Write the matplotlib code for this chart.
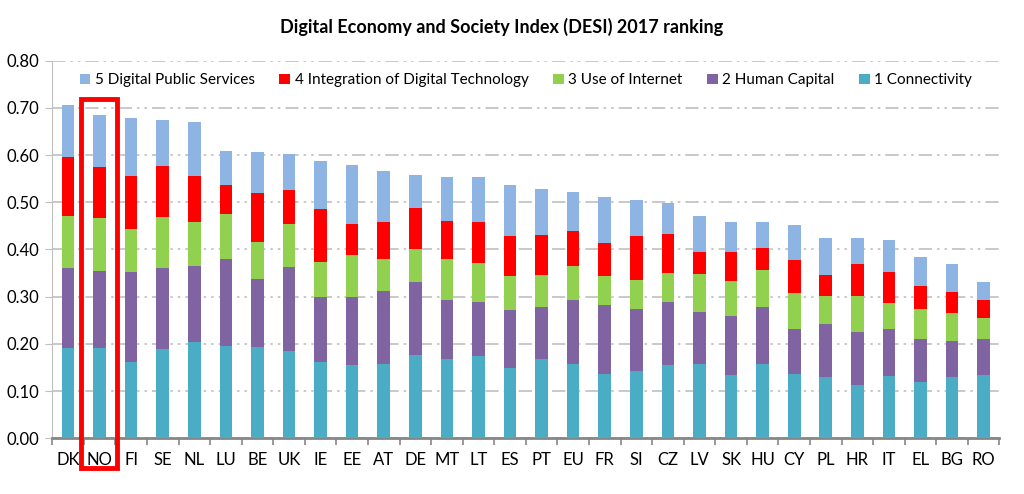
import numpy as np
import matplotlib
matplotlib.use('Agg')
import matplotlib.pyplot as plt
from matplotlib.patches import Rectangle

plt.rcParams['font.family'] = ['Lato', 'DejaVu Sans']

# DESI 2017, one value per dimension and country
countries = ['DK', 'NO', 'FI', 'SE', 'NL', 'LU', 'BE', 'UK', 'IE', 'EE', 'AT', 'DE', 'MT', 'LT', 'ES',
             'PT', 'EU', 'FR', 'SI', 'CZ', 'LV', 'SK', 'HU', 'CY', 'PL', 'HR', 'IT', 'EL', 'BG', 'RO']
connectivity = [0.191, 0.191, 0.161, 0.189, 0.203, 0.196, 0.194, 0.184, 0.161, 0.155, 0.157, 0.177, 0.168, 0.175, 0.148,
                0.167, 0.157, 0.137, 0.143, 0.155, 0.158, 0.134, 0.158, 0.136, 0.129, 0.112, 0.132, 0.119, 0.129, 0.134]
human_capital = [0.170, 0.164, 0.191, 0.171, 0.162, 0.184, 0.143, 0.179, 0.139, 0.145, 0.155, 0.154, 0.125, 0.113, 0.124,
                 0.111, 0.136, 0.146, 0.130, 0.133, 0.109, 0.125, 0.120, 0.095, 0.113, 0.113, 0.099, 0.091, 0.077, 0.076]
use_internet = [0.110, 0.112, 0.092, 0.109, 0.094, 0.096, 0.078, 0.090, 0.074, 0.089, 0.067, 0.071, 0.087, 0.083, 0.072,
                0.067, 0.071, 0.061, 0.062, 0.062, 0.082, 0.075, 0.079, 0.077, 0.060, 0.077, 0.056, 0.064, 0.059, 0.044]
integration = [0.125, 0.107, 0.112, 0.108, 0.096, 0.060, 0.104, 0.073, 0.111, 0.065, 0.079, 0.086, 0.081, 0.088, 0.084,
               0.085, 0.076, 0.070, 0.093, 0.082, 0.046, 0.061, 0.047, 0.069, 0.044, 0.068, 0.066, 0.049, 0.045, 0.038]
public_services = [0.111, 0.112, 0.122, 0.098, 0.116, 0.072, 0.087, 0.076, 0.102, 0.124, 0.109, 0.070, 0.092, 0.094, 0.108,
                   0.098, 0.082, 0.098, 0.077, 0.067, 0.077, 0.064, 0.054, 0.075, 0.079, 0.055, 0.067, 0.061, 0.060, 0.039]

series = [('1 Connectivity', connectivity, '#4BACC6'),
          ('2 Human Capital', human_capital, '#8064A2'),
          ('3 Use of Internet', use_internet, '#92D050'),
          ('4 Integration of Digital Technology', integration, '#FF0000'),
          ('5 Digital Public Services', public_services, '#8DB4E2')]

fig = plt.figure(figsize=(10.24, 4.94), dpi=100)
ax = fig.add_axes([0.051, 0.113, 0.925, 0.764])

x = np.arange(len(countries))
bottom = np.zeros(len(countries))
handles = []
for name, vals, col in series:
    b = ax.bar(x, vals, width=0.4, bottom=bottom, color=col, label=name, zorder=3)
    handles.append(b)
    bottom += np.array(vals)

ax.set_xlim(-0.5, len(countries) - 0.5)
ax.set_ylim(0, 0.8)
ax.set_yticks(np.arange(0, 0.81, 0.1))
ax.set_yticklabels(['%.2f' % v for v in np.arange(0, 0.81, 0.1)], fontsize=12)
ax.yaxis.grid(True, color='#C0C0C0', linewidth=1.2, dashes=(8, 3, 1.5, 3, 1.5, 3), zorder=0)

# Excel-like ticks between categories, labels in the middle
ax.set_xticks(np.arange(-0.5, len(countries), 1.0))
ax.set_xticklabels([])
ax.set_xticks(x, minor=True)
ax.set_xticklabels(countries, minor=True, fontsize=12)
ax.tick_params(axis='x', which='major', direction='out', length=5, color='#868686', width=1.2)
ax.tick_params(axis='x', which='minor', length=0, pad=10)
ax.tick_params(axis='y', direction='out', length=5, color='#BFBFBF', pad=4)

for s in ['top', 'right']:
    ax.spines[s].set_visible(False)
ax.spines['left'].set_color('#BFBFBF')
ax.spines['bottom'].set_color('#868686')
ax.spines['bottom'].set_linewidth(2)

leg = ax.legend(handles[::-1], [s[0] for s in series][::-1], loc='center', ncol=5,
                bbox_to_anchor=(0.5, 0.948), frameon=False, fontsize=11, handlelength=0.7,
                handleheight=0.7, handletextpad=0.3, columnspacing=1.6)

fig.text(0.49, 0.945, 'Digital Economy and Society Index (DESI) 2017 ranking',
         ha='center', va='center', fontsize=13, fontweight='bold')

# red frame highlighting Norway
no = countries.index('NO')
ax.add_patch(Rectangle((no - 0.58, -0.063), 1.12, bottom[no] + 0.032 + 0.063, fill=False,
                       edgecolor='#FF0000', linewidth=3.5, clip_on=False, zorder=5))

fig.savefig('out.png', dpi=100)
